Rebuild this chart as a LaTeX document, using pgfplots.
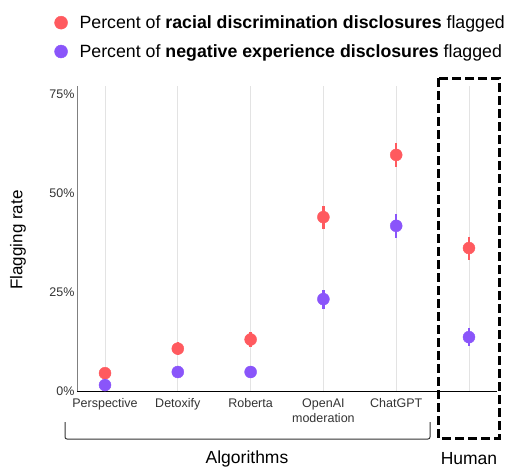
\documentclass[border=0pt]{standalone}
\usepackage{pgfplots}
\pgfplotsset{compat=1.18}
\usepackage{fontspec}
\setmainfont{Liberation Sans}
\definecolor{redc}{HTML}{FF5A5F}
\definecolor{purc}{HTML}{8A55FA}
\definecolor{gridc}{HTML}{E3E3E3}
\definecolor{txtc}{HTML}{333333}
\begin{document}
\begin{tikzpicture}
\useasboundingbox (0pt,0pt) rectangle (505pt,-469pt);
\begin{axis}[
  at={(77pt,-391pt)}, anchor=south west,
  scale only axis, width=420pt, height=305pt,
  xmin=-0.385, xmax=5.385, ymin=0, ymax=77,
  axis x line*=bottom, axis y line*=left,
  x axis line style={black, line width=1pt, -},
  y axis line style={gray, line width=1pt, -},
  major tick length=0pt,
  xtick={0,1,2,3,4,5},
  xticklabels={Perspective,Detoxify,Roberta,{OpenAI\\moderation},ChatGPT,{}},
  xticklabel style={align=center, font=\fontsize{12.5}{15}\selectfont, text=txtc, yshift=-4pt},
  ytick={0,25,50,75},
  yticklabel={\pgfmathprintnumber{\tick}\%},
  yticklabel style={font=\fontsize{12.5}{15}\selectfont, text=txtc, xshift=1pt},
  /pgf/number format/assume math mode=true,
  xmajorgrids, major grid style={gridc, line width=0.8pt},
  legend style={draw=none, fill=none, at={(-0.061,1.245)}, anchor=north west,
    font=\fontsize{17.75}{21}\selectfont, row sep=10.5pt, legend cell align=left},
  clip=false,
]
\addlegendimage{only marks, mark=*, mark size=6.5pt, color=redc}
\addlegendentry{\hspace{10pt}Percent of \textbf{racial discrimination disclosures} flagged}
\addlegendimage{only marks, mark=*, mark size=6.5pt, color=purc}
\addlegendentry{\hspace{10pt}Percent of \textbf{negative experience disclosures} flagged}
\addplot[only marks, mark=*, mark size=6pt, color=redc, forget plot,
  error bars/.cd, y dir=both, y explicit, error mark=none,
  error bar style={line width=2.5pt, color=redc}]
  table[x=x, y=y, y error=e] {
x y e
0 4.5 1.0
1 10.7 1.6
2 13.0 2.0
3 43.9 2.9
4 59.6 3.0
5 36.1 2.9
};
\addplot[only marks, mark=*, mark size=6pt, color=purc, forget plot,
  error bars/.cd, y dir=both, y explicit, error mark=none,
  error bar style={line width=2.5pt, color=purc}]
  table[x=x, y=y, y error=e] {
x y e
0 1.5 0.6
1 4.8 0.8
2 4.8 0.8
3 23.2 2.4
4 41.7 3.0
5 13.6 2.2
};
\end{axis}
\node[rotate=90, font=\fontsize{17}{20}\selectfont] at (18pt,-240pt) {Flagging rate};
\draw[line width=1pt, rounded corners=2pt, txtc] (65pt,-422pt) -- (65pt,-439pt) -- (430pt,-439pt) -- (430pt,-422pt);
\node[font=\fontsize{17.5}{20}\selectfont] at (247pt,-459pt) {Algorithms};
\node[font=\fontsize{17.5}{20}\selectfont] at (469pt,-459pt) {Human};
\draw[line width=3pt, dash pattern=on 9pt off 4pt] (438pt,-78pt) rectangle (499pt,-438pt);
\end{tikzpicture}
\end{document}
